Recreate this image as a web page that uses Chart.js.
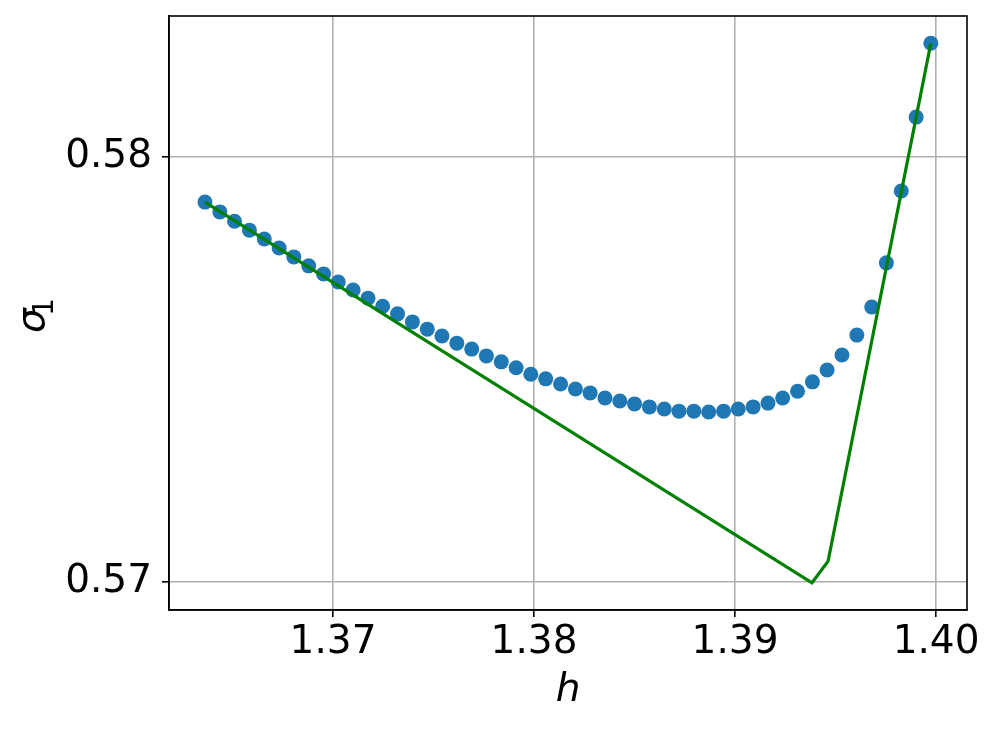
<!DOCTYPE html>
<html>
<head>
<meta charset="utf-8">
<script src="https://cdn.jsdelivr.net/npm/chart.js@4/dist/chart.umd.min.js"></script>
<style>
  html, body { margin: 0; padding: 0; background: #fff; }
  canvas { display: block; }
</style>
</head>
<body>
<canvas id="chart" width="996" height="729"></canvas>
<script>
// h values of the sampled points
const hValues = [
  1.36363, 1.36437, 1.36510, 1.36584, 1.36658, 1.36732, 1.36805, 1.36879, 1.36953, 1.37026,
  1.37100, 1.37174, 1.37247, 1.37321, 1.37395, 1.37469, 1.37542, 1.37616, 1.37690, 1.37763,
  1.37837, 1.37911, 1.37984, 1.38058, 1.38132, 1.38206, 1.38279, 1.38353, 1.38427, 1.38500,
  1.38574, 1.38648, 1.38721, 1.38795, 1.38869, 1.38943, 1.39016, 1.39090, 1.39164, 1.39237,
  1.39311, 1.39385, 1.39458, 1.39532, 1.39606, 1.39680, 1.39753, 1.39827, 1.39901, 1.39974
];
// sigma_1 at each h
const sigmaValues = [
  0.57894, 0.57871, 0.57849, 0.57828, 0.57807, 0.57786, 0.57765, 0.57744, 0.57725, 0.57706,
  0.57687, 0.57668, 0.57649, 0.57631, 0.57612, 0.57595, 0.57579, 0.57562, 0.57548, 0.57532,
  0.57518, 0.57504, 0.57489, 0.57478, 0.57466, 0.57454, 0.57445, 0.57433, 0.57426, 0.57419,
  0.57412, 0.57407, 0.57402, 0.57402, 0.57400, 0.57402, 0.57407, 0.57412, 0.57421, 0.57433,
  0.57449, 0.57471, 0.57499, 0.57534, 0.57581, 0.57647, 0.57751, 0.57920, 0.58094, 0.58268
];
// green reference line
const lineH = [1.36363, 1.39383, 1.39463, 1.39974];
const lineSigma = [0.57894, 0.56998, 0.57049, 0.58268];

const xTicks = [1.37, 1.38, 1.39, 1.40];
const yTicks = [0.57, 0.58];

const tickFont = { family: 'DejaVu Sans', size: 39, lineHeight: 1.2 };

// black frame round the plot area, plus the y label with a real subscript
const frame = {
  id: 'frame',
  afterDraw(chart) {
    const { ctx, chartArea: a } = chart;
    ctx.save();
    ctx.strokeStyle = '#000';
    ctx.lineWidth = 1.6;
    ctx.strokeRect(a.left, a.top, a.right - a.left, a.bottom - a.top);

    const cy = (a.top + a.bottom) / 2;
    ctx.translate(44, cy + 20);
    ctx.rotate(-Math.PI / 2);
    ctx.fillStyle = '#000';
    ctx.textAlign = 'left';
    ctx.textBaseline = 'alphabetic';
    ctx.font = 'italic 39px "DejaVu Sans"';
    ctx.fillText('σ', 0, 0);
    ctx.font = '28px "DejaVu Sans"';
    ctx.fillText('1', 17, 9);
    ctx.restore();
  }
};

new Chart(document.getElementById('chart').getContext('2d'), {
  type: 'scatter',
  data: {
    datasets: [{
      type: 'line',
      data: lineH.map((h, i) => ({ x: h, y: lineSigma[i] })),
      borderColor: '#008000',
      borderWidth: 3.2,
      pointRadius: 0,
      fill: false,
      tension: 0,
      order: 0
    }, {
      data: hValues.map((h, i) => ({ x: h, y: sigmaValues[i] })),
      backgroundColor: '#1f77b4',
      borderWidth: 0,
      pointRadius: 7.5,
      order: 1
    }]
  },
  options: {
    responsive: false,
    animation: false,
    layout: { padding: { left: 0, right: 29, top: 16, bottom: 0 } },
    plugins: { legend: { display: false }, tooltip: { enabled: false } },
    scales: {
      x: {
        type: 'linear',
        min: 1.36184,
        max: 1.40154,
        afterBuildTicks: s => { s.ticks = xTicks.map(v => ({ value: v })); },
        afterFit: s => { s.height = 119; s.paddingLeft = 0; s.paddingRight = 0; },
        ticks: {
          color: '#000',
          font: tickFont,
          padding: 2,
          maxRotation: 0,
          callback: v => v.toFixed(2)
        },
        grid: { color: '#b0b0b0', lineWidth: 1.6, tickColor: '#000', tickLength: 7, tickWidth: 1.6 },
        border: { color: '#000', width: 1.6 },
        title: {
          display: true,
          text: 'h',
          color: '#000',
          font: { family: 'DejaVu Sans', size: 39, style: 'italic', lineHeight: 1.2 },
          padding: { top: 0, bottom: 15 }
        }
      },
      y: {
        type: 'linear',
        min: 0.56934,
        max: 0.58332,
        afterBuildTicks: s => { s.ticks = yTicks.map(v => ({ value: v })); },
        afterFit: s => { s.width = 169; s.paddingTop = 0; s.paddingBottom = 0; },
        ticks: {
          color: '#000',
          font: tickFont,
          padding: 10,
          callback: v => v.toFixed(2)
        },
        grid: { color: '#b0b0b0', lineWidth: 1.6, tickColor: '#000', tickLength: 7, tickWidth: 1.6 },
        border: { color: '#000', width: 1.6 },
        title: { display: false }
      }
    }
  },
  plugins: [frame]
});
</script>
</body>
</html>
